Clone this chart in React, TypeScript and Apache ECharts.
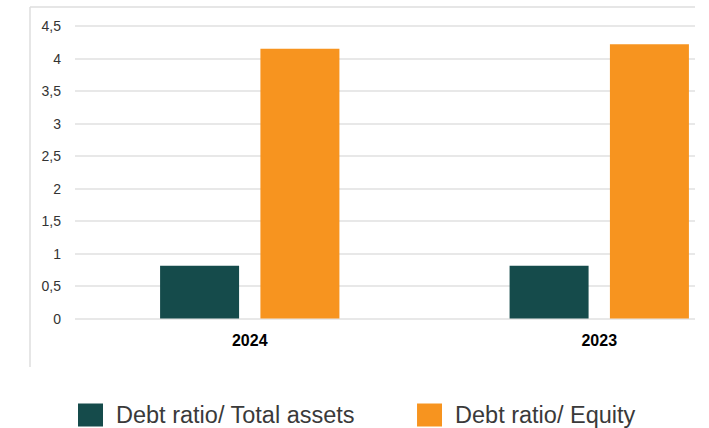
import React, { useEffect, useRef } from "react";
import * as echarts from "echarts";

const categories = ["2024", "2023"];
const debtTotalAssets = [0.81, 0.81];
const debtEquity = [4.15, 4.22];
const seriesNames = ["Debt ratio/ Total assets", "Debt ratio/ Equity"];
const colors = ["#154B4B", "#F7941F"];

export default function App() {
  const ref = useRef<HTMLDivElement>(null);
  useEffect(() => {
    if (!ref.current) return;
    const chart = echarts.init(ref.current, null, { renderer: "svg" });
    chart.setOption({
      animation: false,
      backgroundColor: "#ffffff",
      textStyle: { fontFamily: "Liberation Sans, Arial, sans-serif" },
      grid: { left: 75, right: 0, top: 26, bottom: 428 - 318.5 },
      legend: {
        left: 78,
        top: 403,
        padding: 0,
        itemWidth: 25,
        itemHeight: 23,
        itemGap: 62,
        icon: "rect",
        textStyle: { fontSize: 23.5, color: "#3a3a3a", padding: [0, 0, 0, 8] },
        data: seriesNames,
      },
      xAxis: {
        type: "category",
        data: categories,
        axisLine: { show: false },
        axisTick: { show: false },
        axisLabel: { fontSize: 16, fontWeight: "bold", color: "#000000", margin: 14 },
      },
      yAxis: {
        type: "value",
        min: 0,
        max: 4.5,
        interval: 0.5,
        axisLine: { show: false },
        axisTick: { show: false },
        axisLabel: {
          fontSize: 14,
          color: "#333333",
          margin: 14,
          formatter: (v: number) => String(v).replace(".", ","),
        },
        splitLine: { lineStyle: { color: "#e0e0e0", width: 1.5 } },
      },
      series: [
        {
          name: seriesNames[0],
          type: "bar",
          data: debtTotalAssets,
          barWidth: 79,
          barGap: "27%",
          itemStyle: { color: colors[0] },
        },
        {
          name: seriesNames[1],
          type: "bar",
          data: debtEquity,
          barWidth: 79,
          itemStyle: { color: colors[1] },
        },
      ],
      graphic: [
        {
          type: "rect",
          shape: { x: 695, y: 0, width: 100, height: 340 },
          style: { fill: "#ffffff" },
          z: 100,
        },
        {
          type: "line",
          shape: { x1: 30, y1: 7, x2: 695, y2: 7 },
          style: { stroke: "#dedede", lineWidth: 1.5 },
          z: 101,
        },
        {
          type: "line",
          shape: { x1: 30, y1: 7, x2: 30, y2: 367 },
          style: { stroke: "#dedede", lineWidth: 1.5 },
          z: 101,
        },
      ],
    });
    return () => chart.dispose();
  }, []);
  return (
    <div
      ref={ref}
      style={{ position: "fixed", left: 0, top: 0, width: 774, height: 428 }}
    />
  );
}
